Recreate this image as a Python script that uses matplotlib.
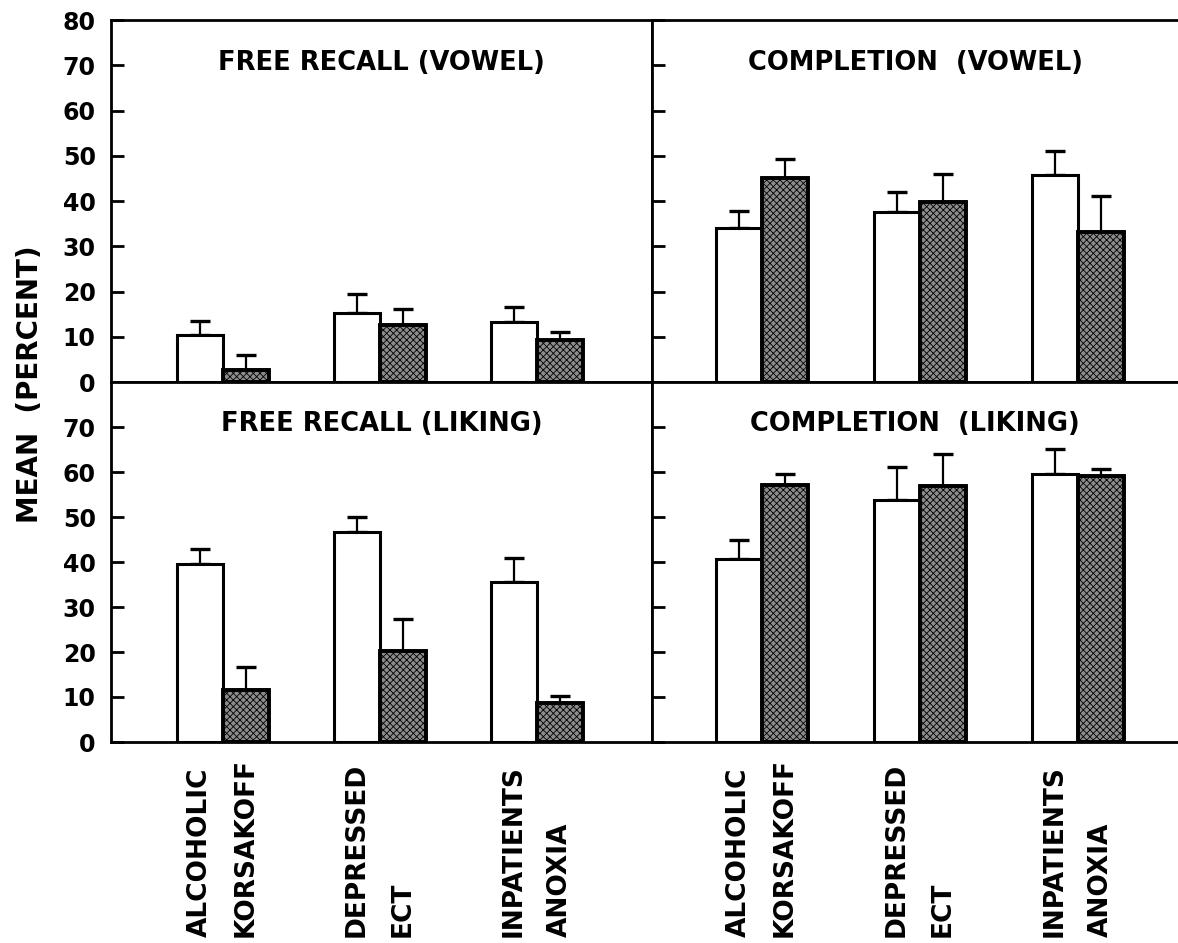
import matplotlib.pyplot as plt
import numpy as np

plt.rcParams['font.family'] = 'DejaVu Sans'
plt.rcParams['font.weight'] = 'bold'
plt.rcParams['hatch.linewidth'] = 0.6

# group labels (control bar / patient bar)
ctrl_labels = ["ALCOHOLIC", "DEPRESSED", "INPATIENTS"]
pat_labels = ["KORSAKOFF", "ECT", "ANOXIA"]

# free recall (vowel)
frv_ctrl = [10.4, 15.2, 13.3]
frv_ctrl_err = [3.0, 4.2, 3.3]
frv_pat = [2.7, 12.6, 9.3]
frv_pat_err = [3.3, 3.5, 1.7]

# completion (vowel)
cv_ctrl = [34.0, 37.6, 45.7]
cv_ctrl_err = [3.8, 4.4, 5.3]
cv_pat = [45.1, 39.8, 33.1]
cv_pat_err = [4.2, 6.2, 8.0]

# free recall (liking)
frl_ctrl = [39.6, 46.7, 35.6]
frl_ctrl_err = [3.3, 3.3, 5.3]
frl_pat = [11.6, 20.2, 8.7]
frl_pat_err = [5.1, 7.1, 1.5]

# completion (liking)
cl_ctrl = [40.7, 53.8, 59.6]
cl_ctrl_err = [4.2, 7.3, 5.5]
cl_pat = [57.1, 56.9, 59.1]
cl_pat_err = [2.5, 7.1, 1.6]

W, H = 1178, 943
fig = plt.figure(figsize=(W / 100, H / 100), dpi=100)

def px_axes(x0, y0, x1, y1):
  return fig.add_axes([x0 / W, 1 - y1 / H, (x1 - x0) / W, (y1 - y0) / H])

ax_tl = px_axes(111, 20, 652, 382)
ax_tr = px_axes(652, 20, 1178, 382)
ax_bl = px_axes(111, 382, 652, 742)
ax_br = px_axes(652, 382, 1178, 742)

bw = 0.293
x = np.arange(3)

def draw_panel(ax, title, ctrl, ctrl_err, pat, pat_err, xlim, left):
  ax.bar(x - bw / 2, ctrl, bw, color='white', edgecolor='black', linewidth=2.2, zorder=2)
  ax.bar(x + bw / 2, pat, bw, color='#8c8c8c', edgecolor='black', linewidth=2.6,
         hatch='xxxxx', zorder=2)
  ax.bar(x + bw / 2, pat, bw, color='none', edgecolor='black', linewidth=2.6, zorder=3)
  ax.errorbar(x - bw / 2, ctrl, yerr=[np.zeros(3), ctrl_err], fmt='none', ecolor='black',
              elinewidth=1.6, capsize=7, capthick=2.4, zorder=1)
  ax.errorbar(x + bw / 2, pat, yerr=[np.zeros(3), pat_err], fmt='none', ecolor='black',
              elinewidth=1.6, capsize=7, capthick=2.4, zorder=1)
  ax.set_xlim(*xlim)
  ax.set_ylim(0, 80)
  ax.set_xticks([])
  ax.tick_params(axis='y', direction='in', length=9, width=2, labelsize=17, pad=11)
  for s in ax.spines.values():
    s.set_linewidth(2)
  if not left:
    ax.spines['right'].set_visible(False)
  ax.text(0.5, 0.882, title, transform=ax.transAxes,
          ha='center', va='center', fontsize=18.5, fontweight='bold')

xl_left = (-0.713, 2.732)
xl_right = (-0.696, 2.633)

draw_panel(ax_tl, "FREE RECALL (VOWEL)", frv_ctrl, frv_ctrl_err, frv_pat, frv_pat_err, xl_left, True)
draw_panel(ax_tr, "COMPLETION  (VOWEL)", cv_ctrl, cv_ctrl_err, cv_pat, cv_pat_err, xl_right, False)
draw_panel(ax_bl, "FREE RECALL (LIKING)", frl_ctrl, frl_ctrl_err, frl_pat, frl_pat_err, xl_left, True)
draw_panel(ax_br, "COMPLETION  (LIKING)", cl_ctrl, cl_ctrl_err, cl_pat, cl_pat_err, xl_right, False)

ax_tl.set_yticks(range(0, 81, 10))
ax_tr.set_yticks(range(0, 81, 10))
ax_tr.set_yticklabels([])
ax_bl.set_yticks(range(0, 71, 10))
ax_br.set_yticks(range(0, 71, 10))
ax_br.set_yticklabels([])

for ax in (ax_bl, ax_br):
  for i in range(3):
    ax.text(x[i] - bw / 2, -0.542, ctrl_labels[i], transform=ax.get_xaxis_transform(),
            rotation=90, ha='center', va='bottom', fontsize=19, fontweight='bold')
    ax.text(x[i] + bw / 2, -0.542, pat_labels[i], transform=ax.get_xaxis_transform(),
            rotation=90, ha='center', va='bottom', fontsize=19, fontweight='bold')

fig.text(30 / W, 1 - 384 / H, "MEAN  (PERCENT)", rotation=90, ha='center', va='center',
         fontsize=20, fontweight='bold')

fig.savefig('out.png', dpi=100)
